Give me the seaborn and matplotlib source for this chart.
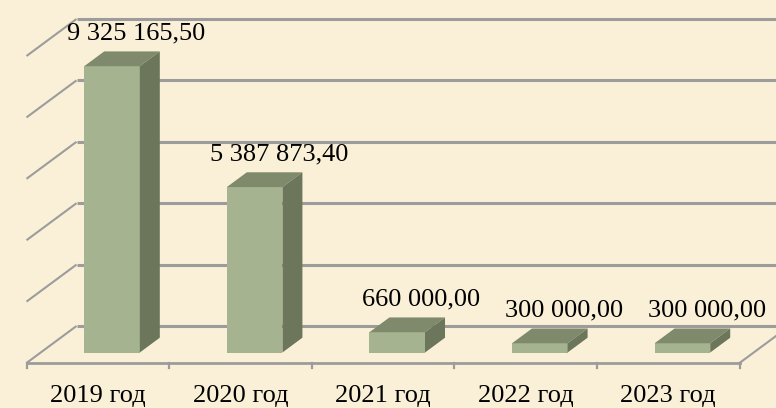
import matplotlib
matplotlib.use("Agg")
import matplotlib.pyplot as plt
from matplotlib.patches import Polygon
import seaborn as sns
import pandas as pd

# Data
categories = ["2019 год", "2020 год", "2021 год", "2022 год", "2023 год"]
values = [9325165.50, 5387873.40, 660000.00, 300000.00, 300000.00]
grid_values = [0, 2000000, 4000000, 6000000, 8000000, 10000000]

# Colours
BG = "#faf0d7"
FRONT = "#a6b390"
TOP = "#7f8a6c"
SIDE = "#6b765b"
GRID = "#9c9c9c"

plt.rcParams["font.family"] = ["Liberation Serif", "DejaVu Serif"]

W, H, DPI = 776, 408, 100
fig = plt.figure(figsize=(W / DPI, H / DPI), dpi=DPI, facecolor=BG)
ax = fig.add_axes([0, 0, 1, 1])
ax.set_facecolor(BG)

# pixel geometry of the oblique projection
CAT_PX = 142.6           # pixels per category
X0_PX = 112.0            # centre of first bar front face
Y0_PX = 352.5            # baseline of bar front faces
K = 61.4 / 2000000       # pixels per value unit
DEPTH_DX = 50.0 / CAT_PX  # category units per unit depth
DEPTH_DY = 37.0 / K       # value units per unit depth
D0 = 10.5 / 37.0          # depth of the bar front faces
BAR_DEPTH = 0.4
BAR_W = 0.39
FONT_SIZE = 19


def proj(xc, v, d):
    """Map (category, value, depth) into data coordinates."""
    return xc + (d - D0) * DEPTH_DX, v + (d - D0) * DEPTH_DY


df = pd.DataFrame({"year": categories, "value": values})
sns.barplot(data=df, x="year", y="value", color=FRONT, saturation=1,
            width=BAR_W, ax=ax, zorder=3, linewidth=0)

# back wall gridlines and left wall diagonals
left, right = -0.5, len(categories) - 0.5
for g in grid_values:
    xa, ya = proj(left, g, 0)
    xb, yb = proj(left, g, 1)
    xr, yr = proj(right + 1, g, 1)
    ax.plot([xa, xb], [ya, yb], color=GRID, lw=1.5, zorder=1,
            solid_capstyle="butt")
    ax.plot([xb, xr], [yb, yr], color=GRID, lw=2.2, zorder=1,
            solid_capstyle="butt")

# floor: front edge, right diagonal and ticks
xa, ya = proj(left, 0, 0)
xb, yb = proj(right, 0, 0)
ax.plot([xa, xb], [ya, yb], color=GRID, lw=2.0, zorder=2)
xr, yr = proj(right, 0, 1)
ax.plot([xb, xr], [yb, yr], color=GRID, lw=1.5, zorder=2)
for i in range(len(categories) + 1):
    xt, yt = proj(left + i, 0, 0)
    ax.plot([xt, xt], [yt, yt - 5 / K], color=GRID, lw=1.6, zorder=2)

# top and side faces of each bar, value labels
for i, v in enumerate(values):
    xl, xr_ = i - BAR_W / 2, i + BAR_W / 2
    top = [proj(xl, v, D0), proj(xr_, v, D0),
           proj(xr_, v, D0 + BAR_DEPTH), proj(xl, v, D0 + BAR_DEPTH)]
    side = [proj(xr_, 0, D0), proj(xr_, v, D0),
            proj(xr_, v, D0 + BAR_DEPTH), proj(xr_, 0, D0 + BAR_DEPTH)]
    ax.add_patch(Polygon(top, closed=True, facecolor=TOP, edgecolor="none",
                         zorder=3))
    ax.add_patch(Polygon(side, closed=True, facecolor=SIDE, edgecolor="none",
                         zorder=3))
    label = f"{v:,.2f}".replace(",", " ").replace(".", ",")
    lx, ly = proj(i + 0.03, v, D0 + BAR_DEPTH)
    ax.text(lx, ly + 12 / K, label, ha="center", va="baseline",
            fontsize=FONT_SIZE, color="black", zorder=5)

# category labels under the floor
for i, c in enumerate(categories):
    cx, _ = proj(i, 0, 0)
    ax.text(cx, (Y0_PX - 402) / K, c, ha="center", va="baseline",
            fontsize=FONT_SIZE, color="black", zorder=5)

ax.set_xlim(-X0_PX / CAT_PX, (W - X0_PX) / CAT_PX)
ax.set_ylim((Y0_PX - H) / K, Y0_PX / K)
ax.set_axis_off()

fig.savefig("out.png", dpi=DPI, facecolor=BG)
